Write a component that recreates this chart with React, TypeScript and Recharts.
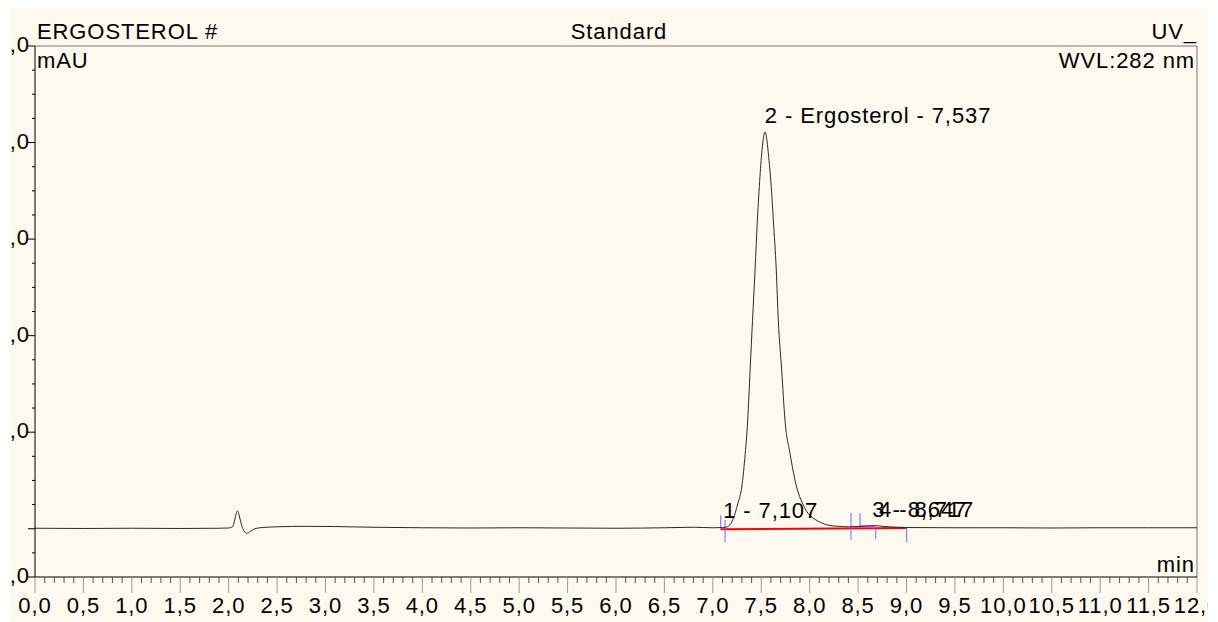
import { LineChart, Line, XAxis, YAxis, ReferenceLine, ReferenceDot } from 'recharts';

// chromatogram trace, time in min, signal in mAU
const times = [
  0, 0.5, 1.0, 1.5, 1.9, 2.0, 2.04, 2.06, 2.08, 2.09, 2.1, 2.12, 2.14, 2.16, 2.19, 2.22, 2.27, 2.35,
  2.5, 2.8, 3.1, 3.5, 4.0, 4.5, 5.0, 5.5, 6.0, 6.5, 6.8, 7.0, 7.1, 7.15, 7.2, 7.23, 7.26, 7.3, 7.33,
  7.36, 7.385, 7.41, 7.436, 7.46, 7.48, 7.505, 7.52, 7.539, 7.555, 7.573, 7.603, 7.625, 7.655, 7.676,
  7.711, 7.745, 7.797, 7.866, 7.924, 7.983, 8.05, 8.125, 8.2, 8.3, 8.4, 8.5, 8.6, 8.68, 8.75, 8.85,
  9.0, 9.5, 10.0, 10.5, 11.0, 11.5, 12.0,
];
const signal = [
  0.1, 0.05, 0.1, 0.05, 0.1, 0.15, 0.4, 1.6, 3.3, 3.7, 3.4, 1.8, 0.3, -0.5, -0.95, -0.6, 0.0, 0.25,
  0.4, 0.5, 0.45, 0.3, 0.2, 0.15, 0.2, 0.15, 0.1, 0.2, 0.3, 0.2, 0.25, 0.4, 1.6, 3.2, 5.3, 8.8, 14.5,
  22.5, 32.9, 43.2, 53.6, 63.9, 70.9, 77.8, 80.6, 82.2, 81.0, 77.8, 70.9, 63.9, 53.6, 43.2,
  32.9, 22.5, 15.6, 8.6, 5.3, 3.2, 2.0, 1.2, 0.7, 0.5, 0.4, 0.45, 0.6, 0.65, 0.5, 0.35,
  0.25, 0.2, 0.2, 0.15, 0.2, 0.2, 0.2,
];

const peakNames = ['1 - 7,107', '2 - Ergosterol - 7,537', '3 - 8,647', '4 - 8,717'];
const peakTimes = [7.107, 7.537, 8.647, 8.717];
const peakHeights = [0.3, 82.2, 0.6, 0.6];

// peak delimiter marks (blue)
const markTimes = [7.082, 7.126, 8.427, 8.52, 8.682, 9.002];
const markTop = [2.8, 1.8, 3.25, 3.25, -0.06, -0.06];
const markBottom = [-0.06, -2.8, -2.3, 0.56, -2.1, -2.8];

const xMajor = [0, 0.5, 1, 1.5, 2, 2.5, 3, 3.5, 4, 4.5, 5, 5.5, 6, 6.5, 7, 7.5, 8, 8.5, 9, 9.5, 10, 10.5, 11, 11.5, 12];
const yMajor = [-10, 0, 20, 40, 60, 80, 100];
const yLabelled = [-10, 20, 40, 60, 80, 100];

const xTicks: number[] = [];
for (let i = 0; i <= 120; i++) xTicks.push(i / 10);
const yTicks: number[] = [];
for (let v = -10; v <= 100; v += 5) yTicks.push(v);

const data = times.map((t, i) => ({ t, v: signal[i] }));

const FONT = '"Liberation Sans", Arial, sans-serif';
const txt = { fontFamily: FONT, fontSize: 22, letterSpacing: 0.9, fill: '#000' };

const XTick = (props: any) => {
  const { x, y, payload } = props;
  const v = payload.value;
  const major = xMajor.some((m) => Math.abs(m - v) < 1e-6);
  if (!major) return <line x1={x} x2={x} y1={y} y2={y + 6} stroke="#555" />;
  return (
    <g>
      <line x1={x} x2={x} y1={y} y2={y + 16} stroke="#999" />
      <text x={x} y={y + 36} textAnchor="middle" style={txt}>
        {v.toFixed(1).replace('.', ',')}
      </text>
    </g>
  );
};

const YTick = (props: any) => {
  const { x, y, payload } = props;
  const v = payload.value;
  const major = yMajor.includes(v);
  return (
    <g>
      <line x1={x - (major ? 7 : 3)} x2={x} y1={y} y2={y} stroke="#000" />
      {yLabelled.includes(v) && (
        <text x={x - 5} y={y + 6} textAnchor="end" style={txt}>
          ,0
        </text>
      )}
    </g>
  );
};

export default function App() {
  return (
    <div style={{ position: 'relative', width: 1198, height: 614, marginLeft: 2, background: '#fdf9ee' }}>
      <LineChart width={1198} height={614} data={data} margin={{ top: 38, right: 11, left: 0, bottom: 0 }}>
        <XAxis
          dataKey="t"
          type="number"
          domain={[0, 12]}
          ticks={xTicks}
          interval={0}
          tick={<XTick />}
          tickLine={false}
          tickSize={0}
          tickMargin={0}
          height={45}
          axisLine={{ stroke: '#000' }}
          allowDataOverflow
        />
        <YAxis
          type="number"
          domain={[-10, 100]}
          ticks={yTicks}
          interval={0}
          tick={<YTick />}
          tickLine={false}
          tickSize={0}
          tickMargin={0}
          width={25}
          axisLine={{ stroke: '#000' }}
          allowDataOverflow
        />
        <ReferenceLine y={100} stroke="#777" />
        <ReferenceLine x={12} stroke="#777" />
        <ReferenceLine
          segment={[{ x: 7.082, y: -0.1 }, { x: 9.002, y: 0.15 }]}
          stroke="#ff0000"
          strokeWidth={2}
        />
        <ReferenceLine
          segment={[{ x: 8.52, y: 0.5 }, { x: 8.682, y: 0.3 }]}
          stroke="#ff33ff"
          strokeWidth={2}
        />
        {markTimes.map((t, i) => (
          <ReferenceLine
            key={'m' + i}
            segment={[{ x: t, y: markTop[i] }, { x: t, y: markBottom[i] }]}
            stroke="#6b6bff"
          />
        ))}
        <Line
          type="monotone"
          dataKey="v"
          stroke="#2a2a2a"
          strokeWidth={1}
          dot={false}
          isAnimationActive={false}
        />
        {peakTimes.map((t, i) => (
          <ReferenceDot
            key={'p' + i}
            x={t}
            y={peakHeights[i]}
            r={2}
            fill="none"
            stroke="none"
            label={(p: any) => (
              <text x={p.viewBox.x + 2} y={p.viewBox.y + 2 - 9} style={txt}>
                {peakNames[i]}
              </text>
            )}
          />
        ))}
      </LineChart>
      <svg
        width={1198}
        height={614}
        style={{ position: 'absolute', left: 0, top: 0, pointerEvents: 'none' }}
      >
        <text x={27} y={31} style={txt}>ERGOSTEROL #</text>
        <text x={609} y={31} textAnchor="middle" style={txt}>Standard</text>
        <text x={1187} y={31} textAnchor="end" style={txt}>UV_</text>
        <text x={27} y={59.5} style={txt}>mAU</text>
        <text x={1185} y={60} textAnchor="end" style={txt}>WVL:282 nm</text>
        <text x={1185} y={564} textAnchor="end" style={txt}>min</text>
      </svg>
    </div>
  );
}
